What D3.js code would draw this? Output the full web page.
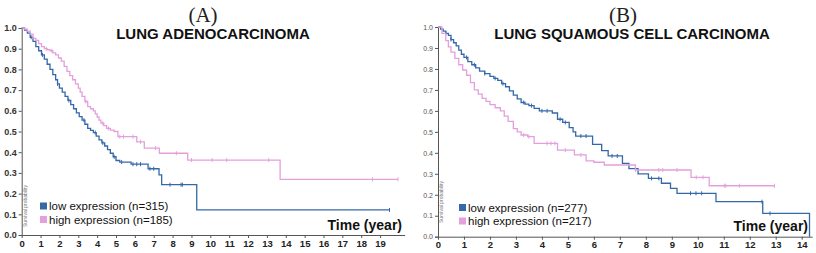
<!DOCTYPE html>
<html>
<head>
<meta charset="utf-8">
<script src="https://cdn.jsdelivr.net/npm/d3@7"></script>
<style>
  body { margin: 0; background: #fff; }
  svg { display: block; font-family: "Liberation Sans", Arial, sans-serif; }
</style>
</head>
<body>
<svg id="chart" width="816" height="253"></svg>
<script>
// ---- data ----
// panel A: lung adenocarcinoma
const lowA_time = [0, 0.15, 0.3, 0.45, 0.6, 0.75, 0.9, 1.05, 1.2, 1.35, 1.5, 1.65, 1.8, 1.9, 2.0, 2.15, 2.3, 2.45, 2.6, 2.75, 2.9, 3.05, 3.2, 3.35, 3.5, 3.65, 3.8, 3.95, 4.1, 4.25, 4.4, 4.55, 4.7, 4.85, 5.0, 5.2, 5.8, 6.7, 7.28, 7.42, 9.28, 19.5];
const lowA_surv = [1.0, 0.99, 0.975, 0.955, 0.935, 0.91, 0.89, 0.87, 0.85, 0.825, 0.80, 0.775, 0.75, 0.73, 0.71, 0.69, 0.67, 0.65, 0.63, 0.61, 0.59, 0.572, 0.555, 0.535, 0.515, 0.505, 0.495, 0.478, 0.46, 0.445, 0.43, 0.412, 0.395, 0.378, 0.36, 0.352, 0.342, 0.32, 0.29, 0.243, 0.121, 0.121];
const lowA_censor = [0.5, 1.1, 1.9, 2.5, 3.3, 3.9, 4.3, 4.9, 5.3, 5.9, 6.1, 6.3, 6.8, 7.0, 7.86, 8.45, 8.52, 19.5];

const highA_time = [0, 0.15, 0.3, 0.45, 0.6, 0.75, 0.9, 1.05, 1.2, 1.35, 1.5, 1.65, 1.8, 1.95, 2.1, 2.25, 2.4, 2.55, 2.7, 2.85, 3.0, 3.1, 3.2, 3.35, 3.5, 3.65, 3.8, 3.9, 4.0, 4.1, 4.2, 4.35, 4.5, 4.7, 4.9, 5.1, 6.1, 6.5, 7.3, 8.8, 13.7, 19.95];
const highA_surv = [1.0, 0.995, 0.985, 0.97, 0.95, 0.94, 0.925, 0.91, 0.90, 0.895, 0.89, 0.88, 0.87, 0.855, 0.84, 0.815, 0.79, 0.77, 0.75, 0.73, 0.71, 0.69, 0.67, 0.645, 0.62, 0.61, 0.60, 0.585, 0.57, 0.555, 0.54, 0.528, 0.515, 0.507, 0.50, 0.475, 0.45, 0.42, 0.395, 0.362, 0.269, 0.269];
const highA_censor = [1.3, 1.6, 3.4, 4.3, 4.6, 5.2, 5.4, 5.9, 6.3, 7.1, 8.2, 9.0, 10.1, 10.87, 13.1, 18.6, 19.95];

// panel B: lung squamous cell carcinoma
const lowB_time = [0, 0.1, 0.2, 0.3, 0.4, 0.5, 0.6, 0.7, 0.8, 0.9, 1.0, 1.15, 1.3, 1.45, 1.6, 1.8, 2.0, 2.15, 2.3, 2.45, 2.6, 2.75, 2.9, 3.05, 3.2, 3.35, 3.5, 3.7, 3.9, 4.4, 4.6, 4.8, 5.05, 5.2, 5.3, 5.95, 6.3, 6.55, 7.1, 7.35, 7.7, 8.1, 8.6, 8.95, 9.2, 10.7, 12.5, 14.3];
const lowB_surv = [1.0, 0.99, 0.98, 0.97, 0.96, 0.94, 0.925, 0.91, 0.89, 0.87, 0.855, 0.835, 0.82, 0.805, 0.79, 0.778, 0.765, 0.755, 0.745, 0.73, 0.715, 0.695, 0.675, 0.657, 0.64, 0.632, 0.625, 0.612, 0.60, 0.59, 0.56, 0.545, 0.52, 0.50, 0.48, 0.44, 0.41, 0.385, 0.35, 0.325, 0.30, 0.278, 0.255, 0.23, 0.207, 0.167, 0.111, 0.0];
const lowB_censor = [0.3, 0.5, 1.1, 1.4, 1.8, 2.2, 2.5, 3.3, 3.6, 4.0, 4.2, 4.7, 4.9, 5.5, 5.7, 6.7, 6.9, 8.22, 8.5, 9.72, 9.93, 10.15, 12.47, 12.78];

const highB_time = [0, 0.15, 0.3, 0.4, 0.5, 0.65, 0.8, 0.95, 1.1, 1.25, 1.4, 1.55, 1.7, 1.85, 2.0, 2.2, 2.4, 2.55, 2.7, 2.9, 3.05, 3.2, 3.45, 3.7, 4.6, 5.25, 5.7, 6.0, 6.4, 7.6, 9.74, 10.44, 12.95];
const highB_surv = [1.0, 0.97, 0.935, 0.905, 0.88, 0.85, 0.82, 0.795, 0.77, 0.735, 0.70, 0.68, 0.66, 0.645, 0.63, 0.615, 0.60, 0.575, 0.55, 0.515, 0.50, 0.485, 0.477, 0.445, 0.413, 0.39, 0.362, 0.355, 0.342, 0.318, 0.283, 0.243, 0.243];
const highB_censor = [3.3, 3.5, 4.2, 4.35, 4.5, 4.9, 5.5, 7.6, 8.5, 8.65, 9.2, 9.94, 10.2, 11.02, 11.08, 11.6, 12.95];

const yTicks = [0, 0.1, 0.2, 0.3, 0.4, 0.5, 0.6, 0.7, 0.8, 0.9, 1.0];
const xTicksA = d3.range(0, 20);
const xTicksB = d3.range(0, 15);

const blue = "#3468a8";
const pink = "#e3a0dc";

const svg = d3.select("#chart");

function pairs(times, surv) {
  return times.map((t, i) => ({ t: t, s: surv[i] }));
}

function survAt(pts, t) {
  let s = pts[0].s;
  pts.forEach(p => { if (p.t <= t) s = p.s; });
  return s;
}

function drawPanel(cfg) {
  const x = d3.scaleLinear().domain([0, cfg.xMax]).range([cfg.x0, cfg.x1]);
  const y = d3.scaleLinear().domain([0, 1]).range([cfg.y0, cfg.y1]);
  const g = svg.append("g");

  // y axis
  const yAxis = g.append("g")
    .attr("transform", `translate(${cfg.x0},0)`)
    .call(d3.axisLeft(y).tickValues(yTicks).tickFormat(d3.format(".1f")).tickSize(3).tickPadding(2));
  yAxis.select(".domain").attr("stroke", "#555");
  yAxis.selectAll(".tick line").attr("stroke", "#555");
  yAxis.selectAll("text")
    .style("font-size", cfg.yFont)
    .style("font-weight", cfg.yBold ? "bold" : "normal")
    .attr("fill", cfg.yColor);

  // x axis
  const xAxis = g.append("g")
    .attr("transform", `translate(0,${cfg.y0})`)
    .call(d3.axisBottom(x).tickValues(cfg.xTicks).tickFormat(d3.format("d")).tickSize(3).tickPadding(2).tickSizeOuter(0));
  xAxis.select(".domain").attr("stroke", "#555");
  xAxis.selectAll(".tick line").attr("stroke", "#555");
  xAxis.selectAll("text")
    .style("font-size", "9.5px")
    .style("font-weight", "bold")
    .attr("fill", "#222");

  const line = d3.line()
    .x(d => x(d.t))
    .y(d => y(d.s))
    .curve(d3.curveStepAfter);

  cfg.series.forEach(ser => {
    const pts = pairs(ser.time, ser.surv);
    g.append("path")
      .datum(pts)
      .attr("fill", "none")
      .attr("stroke", ser.color)
      .attr("stroke-width", 1.3)
      .attr("d", line);

    g.selectAll(null)
      .data(ser.censor)
      .enter().append("line")
      .attr("x1", d => x(d))
      .attr("x2", d => x(d))
      .attr("y1", d => y(survAt(pts, d)) - 2)
      .attr("y2", d => y(survAt(pts, d)) + 2)
      .attr("stroke", ser.color)
      .attr("stroke-width", 1);
  });

  // panel letter + title
  svg.append("text")
    .attr("x", cfg.letterX).attr("y", 22)
    .attr("text-anchor", "middle")
    .style("font-family", "'Liberation Serif', 'DejaVu Serif', serif")
    .style("font-size", "21px")
    .attr("fill", "#222")
    .text(cfg.letter);

  svg.append("text")
    .attr("x", cfg.titleX).attr("y", 39)
    .attr("text-anchor", "middle")
    .style("font-size", "15px")
    .style("font-weight", "bold")
    .attr("fill", "#111")
    .text(cfg.title);

  // survival probability label
  svg.append("text")
    .attr("transform", `translate(${cfg.x0 + 5},${cfg.spY}) rotate(-90)`)
    .attr("text-anchor", "middle")
    .style("font-size", "5px")
    .attr("fill", "#777")
    .text("Survival probability");

  // legend
  cfg.series.forEach((ser, i) => {
    const ly = cfg.legY + i * 13.5;
    svg.append("rect")
      .attr("x", cfg.legX).attr("y", ly - 3.5)
      .attr("width", 7).attr("height", 7)
      .attr("fill", ser.color);
    svg.append("text")
      .attr("x", cfg.legX + 9).attr("y", ly + 4)
      .style("font-size", "11.5px")
      .attr("fill", "#111")
      .text(ser.label);
  });

  svg.append("text")
    .attr("x", cfg.timeX).attr("y", cfg.timeY)
    .attr("text-anchor", "end")
    .style("font-size", "14px")
    .style("font-weight", "bold")
    .attr("fill", "#111")
    .text("Time (year)");
}

drawPanel({
  xMax: 20.3, x0: 21.7, x1: 404.6, y0: 235, y1: 28,
  xTicks: xTicksA, yFont: "9px", yBold: true, yColor: "#333",
  letter: "(A)", letterX: 203, title: "LUNG ADENOCARCINOMA", titleX: 213,
  spY: 206, legX: 40, legY: 206, timeX: 402, timeY: 230,
  series: [
    { label: "low expression (n=315)", color: blue, time: lowA_time, surv: lowA_surv, censor: lowA_censor },
    { label: "high expression (n=185)", color: pink, time: highA_time, surv: highA_surv, censor: highA_censor }
  ]
});

drawPanel({
  xMax: 14.4, x0: 438, x1: 812.1, y0: 236.7, y1: 27,
  xTicks: xTicksB, yFont: "7px", yBold: false, yColor: "#555",
  letter: "(B)", letterX: 623, title: "LUNG SQUAMOUS CELL CARCINOMA", titleX: 632,
  spY: 202, legX: 459, legY: 207.5, timeX: 808, timeY: 231,
  series: [
    { label: "low expression (n=277)", color: blue, time: lowB_time, surv: lowB_surv, censor: lowB_censor },
    { label: "high expression (n=217)", color: pink, time: highB_time, surv: highB_surv, censor: highB_censor }
  ]
});
</script>
</body>
</html>
